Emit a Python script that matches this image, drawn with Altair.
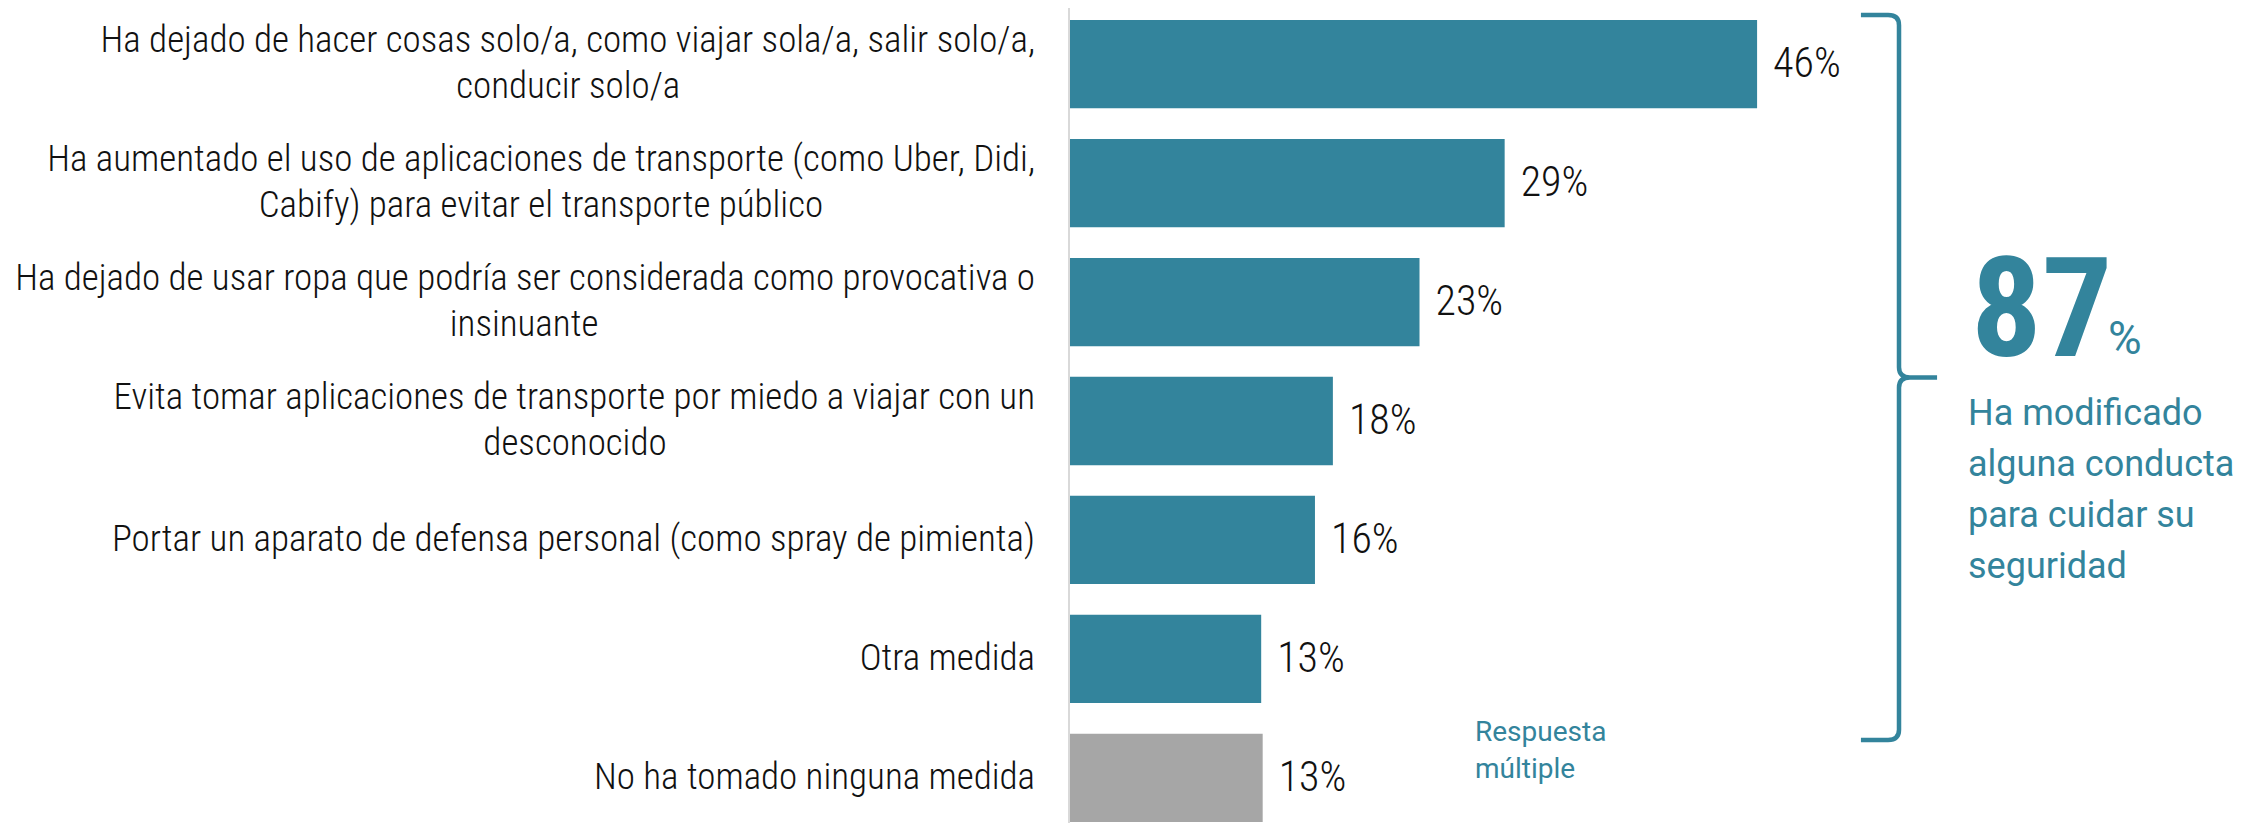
import altair as alt
import pandas as pd

# ---------------- data ----------------
line1 = [
    "Ha dejado de hacer cosas solo/a, como viajar sola/a, salir solo/a,",
    "Ha aumentado el uso de aplicaciones de transporte (como Uber, Didi,",
    "Ha dejado de usar ropa que podría ser considerada como provocativa o",
    "Evita tomar aplicaciones de transporte por miedo a viajar con un",
    "Portar un aparato de defensa personal (como spray de pimienta)",
    "Otra medida",
    "No ha tomado ninguna medida",
]
line2 = [
    "conducir solo/a",
    "Cabify) para evitar el transporte público",
    "insinuante",
    "desconocido",
    "",
    "",
    "",
]
values = [46.0, 29.1, 23.4, 17.6, 16.4, 12.8, 12.9]

big_number = "87"
big_pct = "%"
side_text = ["Ha modificado", "alguna conducta", "para cuidar su", "seguridad"]
note_text = ["Respuesta", "múltiple"]

# ---------------- style ----------------
TEAL = "#33849C"
GRAY = "#A6A6A6"
AXIS = "#D9D9D9"
COND = ("Roboto Condensed Light, Roboto Condensed, Liberation Sans Narrow, "
        "DejaVu Sans Condensed, Roboto")
COND_B = "Roboto Condensed, Liberation Sans Narrow, Roboto"
REG = "Roboto, Noto Sans, sans-serif"
LBL_SIZE = 37
LBL_PAD = 35
W, H = 1180, 815

# rough glyph advance widths (em) used only to centre the 2nd label line
EM = {' ': .248, 'a': .544, 'b': .561, 'c': .523, 'd': .563, 'e': .528, 'f': .347,
      'g': .561, 'h': .551, 'i': .243, 'j': .239, 'k': .507, 'l': .243, 'm': .876,
      'n': .552, 'o': .570, 'p': .561, 'q': .568, 'r': .338, 's': .516, 't': .327,
      'u': .551, 'v': .484, 'w': .751, 'x': .496, 'y': .473, 'z': .496, 'á': .544,
      'é': .528, 'í': .243, 'ó': .570, 'ú': .551, ',': .196, '/': .412, '(': .342,
      ')': .348, 'H': .713, 'E': .567, 'P': .631, 'O': .688, 'N': .713, 'U': .652,
      'D': .655, 'C': .652}
CF = 0.872


def text_width(s):
    return sum(EM.get(ch, .55) for ch in s) * LBL_SIZE * CF


keys = [a + (" " + b if b else "") for a, b in zip(line1, line2)]
df = pd.DataFrame({
    "key": keys,
    "line1": line1,
    "line2": line2,
    "value": values,
    "cx": [-LBL_PAD - text_width(a) / 2 for a in line1],
    "two": [bool(b) for b in line2],
})

one = pd.DataFrame({"t": [0]})

yenc = alt.Y("key:N", sort=keys, axis=None,
             scale=alt.Scale(range=[12, 814], paddingInner=0.257, paddingOuter=0))
xenc = alt.X("value:Q", axis=None, scale=alt.Scale(domain=[0, 79]))

base = alt.Chart(df)

axis_line = alt.Chart(one).mark_rule(color=AXIS, strokeWidth=2).encode(
    x=alt.value(-1), y=alt.value(-2), y2=alt.value(H))

bars = base.mark_bar().encode(
    y=yenc, x=xenc,
    color=alt.condition(alt.datum.key == keys[-1], alt.value(GRAY), alt.value(TEAL)))

vals = base.transform_calculate(
    label="format(datum.value, '.0f') + '%'"
).mark_text(align="left", baseline="middle", dx=16, font=COND,
            fontSize=42, fontWeight=300, color="#111111").encode(
    y=yenc, x=xenc, text="label:N")

lab_single = base.transform_filter("!datum.two").mark_text(
    align="right", baseline="middle", font=COND, fontSize=LBL_SIZE,
    fontWeight=300, color="#111111").encode(
    y=yenc, x=alt.value(-LBL_PAD), text="line1:N")

lab_first = base.transform_filter("datum.two").mark_text(
    align="right", baseline="middle", dy=-23, font=COND, fontSize=LBL_SIZE,
    fontWeight=300, color="#111111").encode(
    y=yenc, x=alt.value(-LBL_PAD), text="line1:N")

lab_second = base.transform_filter("datum.two").mark_text(
    align="center", baseline="middle", dy=23, font=COND, fontSize=LBL_SIZE,
    fontWeight=300, color="#111111").encode(
    y=yenc, x=alt.X("cx:Q", scale=None), text="line2:N")

BRACE = ("M -0.105 -1 L -0.03 -1 Q 0 -1 0 -0.972 L 0 -0.028 Q 0 0 0.03 0 "
         "L 0.105 0 M 0.03 0 Q 0 0 0 0.028 L 0 0.972 Q 0 1 -0.03 1 L -0.105 1")
brace = alt.Chart(one).mark_point(
    shape=BRACE, size=725 * 725, filled=False, stroke=TEAL, strokeWidth=4.5,
    opacity=1).encode(x=alt.value(829), y=alt.value(369.5))

num = alt.Chart(one).mark_text(
    text=big_number, align="left", baseline="alphabetic", font=COND_B,
    fontSize=140, fontWeight="bold", color=TEAL).encode(
    x=alt.value(901), y=alt.value(348))

pct = alt.Chart(one).mark_text(
    text=big_pct, align="left", baseline="alphabetic", font=REG,
    fontSize=46, color=TEAL).encode(x=alt.value(1038), y=alt.value(346))

side = alt.Chart(one).mark_text(
    text=side_text, align="left", baseline="alphabetic", font=REG,
    fontSize=36, lineHeight=51, color=TEAL).encode(
    x=alt.value(898), y=alt.value(417))

note = alt.Chart(one).mark_text(
    text=note_text, align="left", baseline="alphabetic", font=REG,
    fontSize=28, lineHeight=37, color=TEAL).encode(
    x=alt.value(405), y=alt.value(733))

chart = alt.layer(
    axis_line, bars, vals, lab_single, lab_first, lab_second,
    brace, num, pct, side, note
).properties(
    width=W, height=H,
    autosize=alt.AutoSizeParams(type="none"),
    padding={"left": 1062, "top": 0, "right": 0, "bottom": 0},
    background="white",
).configure_view(stroke=None)

chart.save("out.html", embed_options={"renderer": "svg", "actions": False})
